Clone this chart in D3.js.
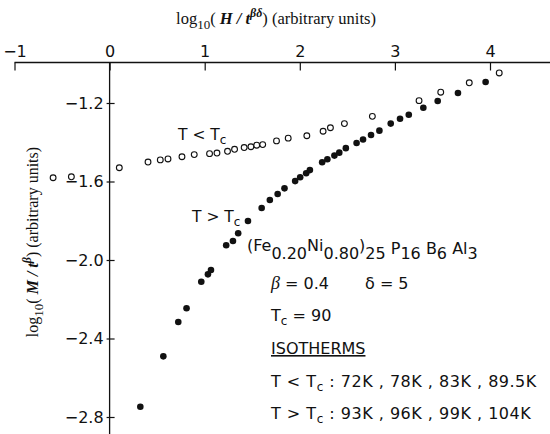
<!DOCTYPE html>
<html>
<head>
<meta charset="utf-8">
<script src="https://cdn.jsdelivr.net/npm/d3@7/dist/d3.min.js"></script>
<style>
  html, body { margin: 0; padding: 0; background: #fff; }
  svg { display: block; }
  .sans { font-family: "DejaVu Sans", "Liberation Sans", sans-serif; }
  .serif { font-family: "Liberation Serif", "DejaVu Serif", serif; }
</style>
</head>
<body>
<svg id="chart" width="550" height="434"></svg>
<script>
// Scaled magnetisation isotherms, log10(M/t^β) against log10(H/t^βδ)
const xTicks = [-1, 0, 1, 2, 3, 4];
const yTicks = [-1.2, -1.6, -2.0, -2.4, -2.8];

// T < Tc isotherms (open circles)
const belowX = [-0.594, -0.402, 0.102, 0.404, 0.533, 0.614, 0.761, 0.890, 1.051, 1.129,
                1.240, 1.314, 1.415, 1.486, 1.547, 1.610, 1.755, 1.878, 2.074, 2.245,
                2.322, 2.469, 2.763, 3.254, 3.482, 3.782, 4.097];
const belowY = [-1.581, -1.576, -1.530, -1.501, -1.490, -1.485, -1.474, -1.463, -1.458, -1.455,
                -1.446, -1.436, -1.427, -1.423, -1.415, -1.412, -1.393, -1.379, -1.367, -1.344,
                -1.326, -1.305, -1.268, -1.188, -1.145, -1.097, -1.047];

// T > Tc isotherms (filled circles)
const aboveX = [0.323, 0.565, 0.722, 0.809, 0.964, 1.034, 1.066, 1.226, 1.297, 1.352,
                1.455, 1.599, 1.685, 1.767, 1.839, 1.951, 2.004, 2.067, 2.106, 2.235,
                2.290, 2.364, 2.415, 2.484, 2.597, 2.665, 2.749, 2.837, 2.956, 3.054,
                3.146, 3.299, 3.450, 3.663, 3.954];
const aboveY = [-2.748, -2.491, -2.316, -2.246, -2.111, -2.073, -2.051, -1.925, -1.903, -1.864,
                -1.801, -1.735, -1.694, -1.664, -1.635, -1.598, -1.578, -1.558, -1.542, -1.502,
                -1.487, -1.468, -1.453, -1.430, -1.404, -1.386, -1.363, -1.341, -1.305, -1.280,
                -1.260, -1.224, -1.190, -1.149, -1.093];

// isotherm temperatures listed in the key
const tempsBelow = ["72K", "78K", "83K", "89.5K"];
const tempsAbove = ["93K", "96K", "99K", "104K"];

const svg = d3.select("#chart");
const ink = "#111";

const x = d3.scaleLinear().domain([-1, 4]).range([14.5, 490]);
const y = d3.scaleLinear().domain([-1.2, -2.8]).range([103, 417]);
const axisTopY = 62.5;
const axisLeftX = x(0);

// top axis: ticks hang below the line, labels above
const gTop = svg.append("g")
  .attr("class", "sans")
  .attr("transform", `translate(0,${axisTopY})`)
  .call(d3.axisTop(x).tickValues(xTicks).tickSize(-8).tickPadding(6)
        .tickFormat(d => d < 0 ? "\u2212" + Math.abs(d) : String(d)));
gTop.select(".domain").remove();
gTop.selectAll(".tick line").attr("stroke", ink).attr("stroke-width", 1.2);
gTop.selectAll(".tick text").attr("fill", ink).attr("font-size", 16);
svg.append("line")
  .attr("x1", x(-1)).attr("x2", 550).attr("y1", axisTopY).attr("y2", axisTopY)
  .attr("stroke", ink).attr("stroke-width", 1.3);

// left axis placed at x = 0, ticks cross the line
const gLeft = svg.append("g")
  .attr("class", "sans")
  .attr("transform", `translate(${axisLeftX},0)`)
  .call(d3.axisLeft(y).tickValues(yTicks).tickSize(3).tickPadding(3)
        .tickFormat(d => "\u2212" + Math.abs(d).toFixed(1)));
gLeft.select(".domain").remove();
gLeft.selectAll(".tick line").attr("stroke", ink).attr("stroke-width", 1.2);
gLeft.selectAll(".tick").append("line")
  .attr("x1", 0).attr("x2", 5).attr("stroke", ink).attr("stroke-width", 1.2);
gLeft.selectAll(".tick text").attr("fill", ink).attr("font-size", 16);
svg.append("line")
  .attr("x1", axisLeftX).attr("x2", axisLeftX).attr("y1", axisTopY).attr("y2", 434)
  .attr("stroke", ink).attr("stroke-width", 1.3);

// axis titles
function axisTitle(sel, sym, sup) {
  sel.append("tspan").text("log");
  sel.append("tspan").attr("dy", 5).attr("font-size", 13).text("10");
  sel.append("tspan").attr("dy", -5).text("( ");
  sel.append("tspan").attr("font-style", "italic").attr("font-weight", "bold").text(sym + " / t");
  sel.append("tspan").attr("dy", -7).attr("font-size", 12).attr("font-style", "italic")
    .attr("font-weight", "bold").text(sup);
  sel.append("tspan").attr("dy", 7).text(")  (arbitrary units)");
}
axisTitle(svg.append("text").attr("class", "serif").attr("fill", ink)
  .attr("x", 276).attr("y", 24).attr("text-anchor", "middle").attr("font-size", 16.5),
  "H", "βδ");
axisTitle(svg.append("text").attr("class", "serif").attr("fill", ink)
  .attr("transform", "translate(38,242) rotate(-90)")
  .attr("text-anchor", "middle").attr("font-size", 16),
  "M", "β");

// data points
const below = belowX.map((v, i) => ({ x: v, y: belowY[i] }));
const above = aboveX.map((v, i) => ({ x: v, y: aboveY[i] }));

svg.append("g").selectAll("circle").data(below).join("circle")
  .attr("cx", d => x(d.x)).attr("cy", d => y(d.y)).attr("r", 2.9)
  .attr("fill", "#fff").attr("stroke", ink).attr("stroke-width", 1.1);

svg.append("g").selectAll("circle").data(above).join("circle")
  .attr("cx", d => x(d.x)).attr("cy", d => y(d.y)).attr("r", 3.3)
  .attr("fill", ink);

// "T < Tc" style label with subscript c
function tRel(sel, rel) {
  sel.append("tspan").text("T " + rel + " T");
  sel.append("tspan").attr("dy", 4).attr("font-size", 12).text("c");
  return sel;
}
tRel(svg.append("text").attr("class", "sans").attr("fill", ink)
  .attr("x", 178).attr("y", 140).attr("font-size", 15.5), "<");
tRel(svg.append("text").attr("class", "sans").attr("fill", ink)
  .attr("x", 192).attr("y", 222).attr("font-size", 15.5), ">");

// composition and parameters
const info = svg.append("g").attr("class", "sans").attr("fill", ink);
const formula = [["(Fe", 0], ["0.20", 1], ["Ni", 0], ["0.80", 1], [")", 0], ["25", 1],
                 [" P", 0.4], ["16", 1], [" B", 0.4], ["6", 1], [" Al", 0.4], ["3", 1]];
const f = info.append("text").attr("x", 247).attr("y", 251).attr("font-size", 16);
formula.forEach(([s, lvl], i) => {
  const prev = i ? formula[i - 1][1] : 0;
  f.append("tspan").attr("dy", (lvl - prev) * 8).text(s);
});

const rowY = [289, 321, 354, 387, 419];
const left = 271;

const b = info.append("text").attr("x", left).attr("y", rowY[0]).attr("font-size", 16);
b.append("tspan").attr("font-style", "italic").attr("font-family", "Liberation Serif, serif")
  .attr("font-size", 18).text("β");
b.append("tspan").text(" = 0.4");
b.append("tspan").attr("x", 365).text("δ = 5");

const tc = info.append("text").attr("x", left).attr("y", rowY[1]).attr("font-size", 16);
tc.append("tspan").text("T");
tc.append("tspan").attr("dy", 4).attr("font-size", 12).text("c");
tc.append("tspan").attr("dy", -4).text(" = 90");

info.append("text").attr("x", left).attr("y", rowY[2]).attr("font-size", 16)
  .attr("text-decoration", "underline").text("ISOTHERMS");

function isoRow(py, rel, temps) {
  const t = info.append("text").attr("x", left).attr("y", py).attr("font-size", 16)
    .attr("letter-spacing", 0.5);
  tRel(t, rel);
  t.append("tspan").attr("dy", -4).text("  : " + temps.join(" , "));
}
isoRow(rowY[3], "<", tempsBelow);
isoRow(rowY[4], ">", tempsAbove);
</script>
</body>
</html>
